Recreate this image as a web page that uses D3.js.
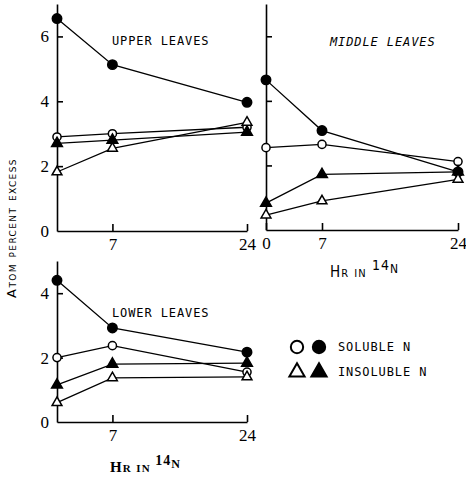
<!DOCTYPE html>
<meta charset="utf-8">
<style>
body { margin: 0; background: #fff; }
.axis path, .axis line { stroke: #000; stroke-width: 1.6px; }
.axis text { font: 17px "Liberation Serif", serif; fill: #000; }
.series { fill: none; stroke: #000; stroke-width: 1.3px; }
.title { font: 12px "DejaVu Sans Mono", monospace; letter-spacing: 0.9px; }
.lab { font-family: "DejaVu Sans", sans-serif; font-variant: small-caps; }
</style>
<body>
<svg width="466" height="480"></svg>
<script src="https://cdnjs.cloudflare.com/ajax/libs/d3/7.8.5/d3.min.js"></script>
<script>

var hours = [0, 7, 24];

// upper leaves
var upperSolubleLabel = [2.9, 3.0, 3.2];
var upperSolubleUnl   = [6.55, 5.13, 3.97];
var upperInsolLabel   = [1.82, 2.55, 3.35];
var upperInsolUnl     = [2.7, 2.8, 3.05];

// middle leaves
var middleSolubleLabel = [2.55, 2.65, 2.12];
var middleSolubleUnl   = [4.65, 3.08, 1.8];
var middleInsolLabel   = [0.46, 0.9, 1.57];
var middleInsolUnl     = [0.83, 1.72, 1.8];

// lower leaves
var lowerSolubleLabel = [2.0, 2.37, 1.55];
var lowerSolubleUnl   = [4.4, 2.92, 2.17];
var lowerInsolLabel   = [0.6, 1.37, 1.4];
var lowerInsolUnl     = [1.15, 1.8, 1.83];

var yTicks = [0, 2, 4, 6];
var legendLabels = ["SOLUBLE N", "INSOLUBLE N"];

var svg = d3.select("svg");

var panels = [
  { title: "UPPER LEAVES", tx: 112, ty: 45, italic: false,
    x: [57, 247], y: [231, 4], ymax: 7, yLabels: true, xTicks: [7, 24],
    series: [upperSolubleUnl, upperSolubleLabel, upperInsolUnl, upperInsolLabel] },
  { title: "MIDDLE LEAVES", tx: 330, ty: 46, italic: true,
    x: [266, 458], y: [230, 4], ymax: 7, yLabels: false, xTicks: [0, 7, 24],
    series: [middleSolubleUnl, middleSolubleLabel, middleInsolUnl, middleInsolLabel] },
  { title: "LOWER LEAVES", tx: 112, ty: 317, italic: false,
    x: [57, 247], y: [422, 261], ymax: 5, yLabels: true, xTicks: [7, 24],
    series: [lowerSolubleUnl, lowerSolubleLabel, lowerInsolUnl, lowerInsolLabel] }
];

// marker kinds in series order: filled circle, open circle, filled tri, open tri
var kinds = [
  { shape: d3.symbolCircle, fill: "#000", size: 70 },
  { shape: d3.symbolCircle, fill: "#fff", size: 52 },
  { shape: d3.symbolTriangle, fill: "#000", size: 50 },
  { shape: d3.symbolTriangle, fill: "#fff", size: 42 }
];

panels.forEach(function(p) {
  var x = d3.scaleLinear().domain([0, 24]).range(p.x);
  var y = d3.scaleLinear().domain([0, p.ymax]).range(p.y);

  var g = svg.append("g");

  // x axis
  g.append("g")
      .attr("class", "axis")
      .attr("transform", "translate(0," + p.y[0] + ")")
      .call(d3.axisBottom(x).tickValues(p.xTicks).tickSizeInner(-7).tickSizeOuter(0).tickPadding(4))
      .selectAll("text").attr("dy", "0.9em");

  // y axis
  var ya = g.append("g")
      .attr("class", "axis")
      .attr("transform", "translate(" + p.x[0] + ",0)")
      .call(d3.axisLeft(y).tickValues(yTicks.filter(function(t) { return t < p.ymax; }))
        .tickSizeInner(-6).tickSizeOuter(0).tickPadding(8)
        .tickFormat(p.yLabels ? d3.format("d") : ""));
  ya.selectAll(".tick").filter(function(d) { return d === 0; }).select("line").remove();

  var line = d3.line()
      .x(function(d, i) { return x(hours[i]); })
      .y(function(d) { return y(d); });

  p.series.forEach(function(s, k) {
    g.append("path").attr("class", "series").attr("d", line(s));
  });
  p.series.forEach(function(s, k) {
    g.selectAll(null)
      .data(s)
      .enter().append("path")
        .attr("transform", function(d, i) { return "translate(" + x(hours[i]) + "," + y(d) + ")"; })
        .attr("d", d3.symbol().type(kinds[k].shape).size(kinds[k].size))
        .attr("fill", kinds[k].fill)
        .attr("stroke", "#000")
        .attr("stroke-width", 1.5);
  });

  g.append("text")
      .attr("class", "title")
      .attr("x", p.tx).attr("y", p.ty)
      .style("font-style", p.italic ? "italic" : "normal")
      .text(p.title);
});

// y axis label
svg.append("text")
    .attr("class", "lab")
    .attr("transform", "translate(16,228) rotate(-90)")
    .attr("text-anchor", "middle")
    .style("font-size", "13px")
    .style("letter-spacing", "1.4px")
    .text("Atom percent excess");

// x axis labels
function hrLabel(xp, yp, bold) {
  var t = svg.append("text")
      .attr("class", "lab")
      .attr("x", xp).attr("y", yp)
      .style("font-size", "15px")
      .style("font-family", bold ? "Liberation Serif, serif" : "DejaVu Sans Condensed, sans-serif")
      .style("font-weight", bold ? "bold" : "normal")
      .style("letter-spacing", "1px");
  t.append("tspan").text("Hr in ");
  t.append("tspan").attr("dy", -7).style("font-size", "14px").text("14");
  t.append("tspan").attr("dy", 3).style("font-size", "12px").text("N");
}
hrLabel(330, 277, false);
hrLabel(110, 472, true);

// legend
var legend = svg.append("g");
legendLabels.forEach(function(lbl, r) {
  var yy = 347 + r * 25;
  [1, 0].forEach(function(k, c) {
    var kk = kinds[r * 2 + k];
    legend.append("path")
        .attr("transform", "translate(" + (297 + c * 22) + "," + yy + ")")
        .attr("d", d3.symbol().type(kk.shape).size(r === 0 ? 120 : 100))
        .attr("fill", kk.fill)
        .attr("stroke", "#000")
        .attr("stroke-width", 2);
  });
  legend.append("text")
      .attr("class", "title")
      .attr("x", 338).attr("y", yy + 4)
      .text(lbl);
});

</script>
</body>
